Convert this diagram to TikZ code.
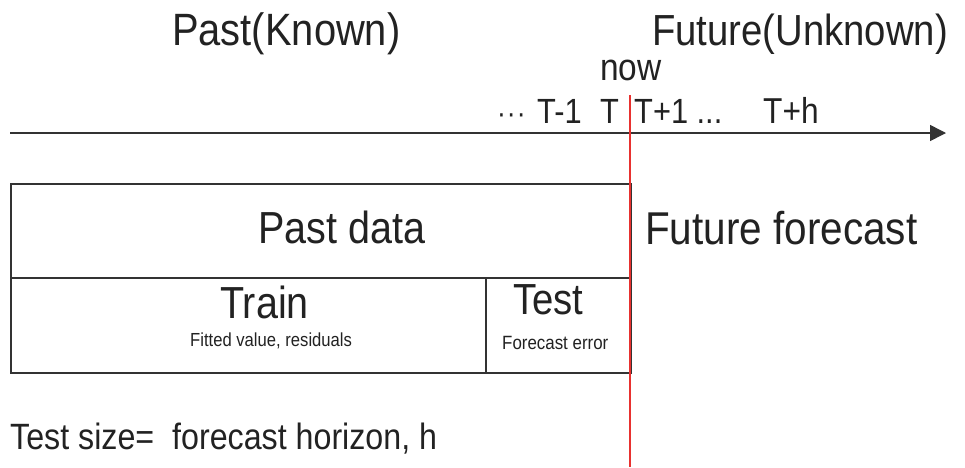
\documentclass[tikz,border=0pt]{standalone}
\usepackage{fontspec}
\setmainfont{Liberation Sans}[FakeStretch=0.88]
\usetikzlibrary{arrows.meta}
\definecolor{ink}{HTML}{222222}
\definecolor{linec}{HTML}{333333}
\definecolor{nowred}{HTML}{E8312F}
\tikzset{
  lbl/.style={inner sep=0pt, anchor=base west, text=ink},
  boxc/.style={draw=linec, line width=1.5pt, inner sep=0pt, anchor=north west},
}
\newcommand{\fs}[1]{\fontsize{#1}{#1}\selectfont}
\begin{document}
\begin{tikzpicture}[x=1pt,y=-1pt]
\useasboundingbox[fill=white] (0,0) rectangle (965,467);
% header labels
\node[lbl] (past) at (172,45) {\fs{45.3}Past(Known)};
\node[lbl] (future) at (652,45) {\fs{43.5}Future(Unknown)};
\node[lbl] (now) at (600,80) {\fs{38}now};
\node[lbl] (dots1) at (497,123) {\fs{30}·\kern1pt·\kern1pt·};
\node[lbl] (tm1) at (537,123) {\fs{35}T-1};
\node[lbl] (tt) at (600,123) {\fs{35}T};
\node[lbl] (tp1) at (634,123) {\fs{35}T+1 ...};
\node[lbl] (tph) at (763,123) {\fs{36}T+h};
% axis
\coordinate (axs) at (10,133);
\coordinate (axe) at (946,133);
\draw[linec, line width=1.5pt, -{Triangle[length=16pt,width=16pt]}] (axs) -- (axe);
% boxes
\node[boxc, minimum width=620pt, minimum height=94pt] (pastbox) at (10,183) {};
\node[boxc, minimum width=475pt, minimum height=95pt] (trainbox) at (10,277) {};
\node[boxc, minimum width=145pt, minimum height=95pt] (testbox) at (485,277) {};
% box texts
\node[lbl] (pastdata) at (258,243) {\fs{44.9}Past data};
\node[lbl] (train) at (220,318) {\fs{44.9}Train};
\node[lbl] (fitted) at (190,346) {\fs{18.9}Fitted value, residuals};
\node[lbl] (test) at (513,314) {\fs{43.5}Test};
\node[lbl] (fcerr) at (502,349) {\fs{19.2}Forecast error};
\node[lbl] (ffc) at (645,244) {\fs{46}Future forecast};
\node[lbl] (tsize) at (10,449) {\fs{36.6}Test size=\ \ forecast horizon, h};
% now line
\coordinate (nowtop) at (630,95);
\coordinate (nowbot) at (630,467);
\draw[nowred, line width=1.3pt] (nowtop) -- (nowbot);
\end{tikzpicture}
\end{document}
